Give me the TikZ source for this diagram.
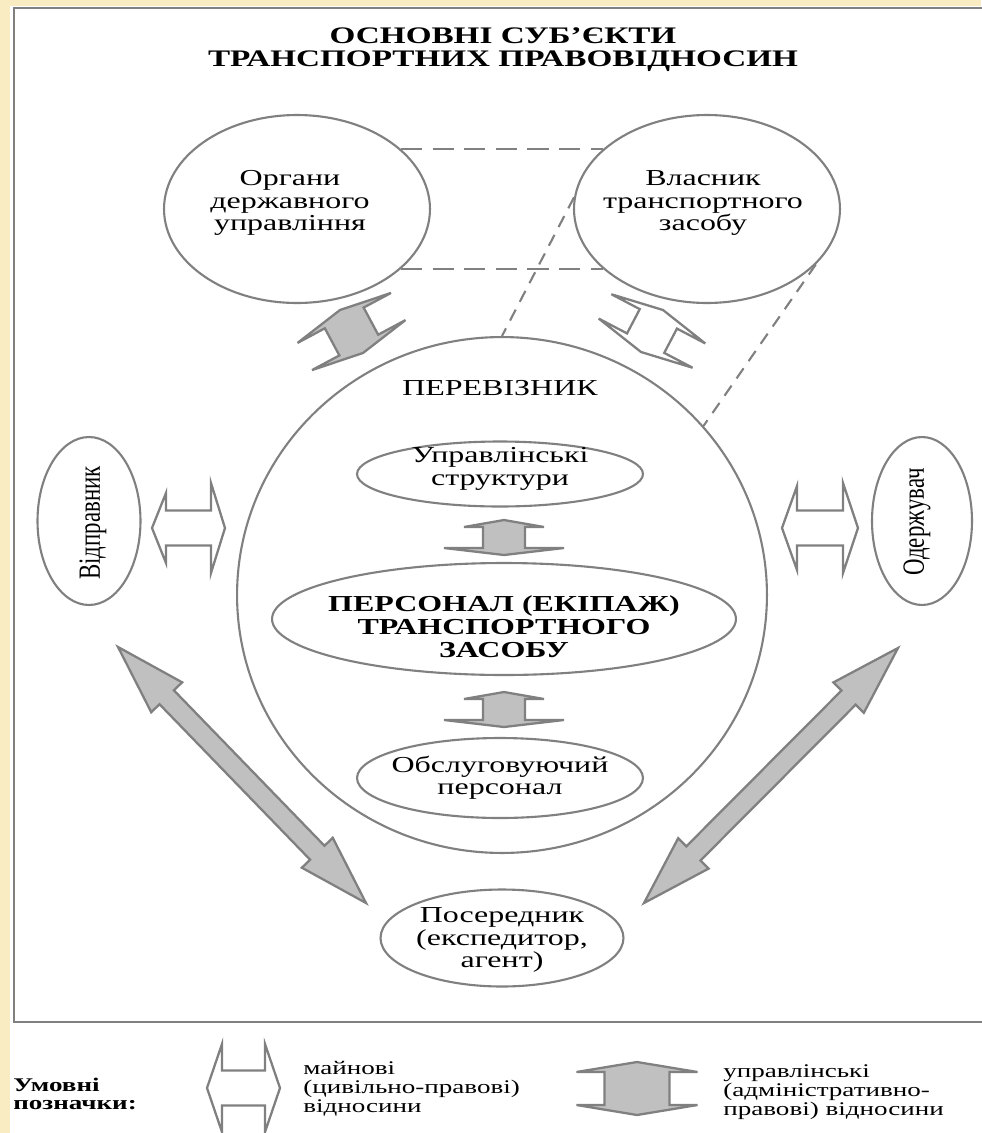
\documentclass[tikz,border=0pt]{standalone}
\usepackage{fontspec}
\usepackage{graphicx}
\setmainfont[FakeStretch=1.4]{Liberation Serif}
\newfontfamily\uprightfont{Liberation Serif}
\usetikzlibrary{calc,shapes.geometric}
\definecolor{linegray}{RGB}{128,128,128}
\definecolor{fillgray}{RGB}{192,192,192}
\definecolor{slideyellow}{RGB}{250,236,194}

% double block arrow: from, to, shaft half, head half (from), head half (to), head length, style
\newcommand{\dblarrow}[7]{%
  \draw[#7] (#1)
    -- ($($(#1)!#6!(#2)$)!#4!90:(#2)$)
    -- ($($(#1)!#6!(#2)$)!#3!90:(#2)$)
    -- ($($(#2)!#6!(#1)$)!#3!-90:(#1)$)
    -- ($($(#2)!#6!(#1)$)!#5!-90:(#1)$)
    -- (#2)
    -- ($($(#2)!#6!(#1)$)!#5!90:(#1)$)
    -- ($($(#2)!#6!(#1)$)!#3!90:(#1)$)
    -- ($($(#1)!#6!(#2)$)!#3!-90:(#2)$)
    -- ($($(#1)!#6!(#2)$)!#4!-90:(#2)$)
    -- cycle;}

\begin{document}
\begin{tikzpicture}[x=0.02cm,y=-0.02cm,
  ell/.style={draw=linegray,line width=1.2pt,ellipse,inner sep=0pt},
  txt/.style={align=center,inner sep=0pt,font=\fontsize{13}{12.8}\selectfont},
  gblock/.style={draw=linegray,fill=fillgray,line width=1.3pt},
  wblock/.style={draw=linegray,fill=white,line width=1.3pt},
  link/.style={draw=linegray,line width=1.2pt}]
\useasboundingbox (0,0) rectangle (981,1133);
% slide background and frame
\fill[white] (0,0) rectangle (981,1133);
\fill[slideyellow] (0,0) rectangle (981,6);
\fill[slideyellow] (0,0) rectangle (10,1133);
\draw[linegray,line width=1.6pt] (990,8) -- (14,8) -- (14,1022) -- (990,1022);

% Title
\node[align=center,font=\fontsize{13.5}{13}\selectfont\bfseries] (title) at (503,50)
  {ОСНОВНІ СУБ’ЄКТИ\\ТРАНСПОРТНИХ ПРАВОВІДНОСИН};

% Top circles
\node[ell,minimum width=5.32cm,minimum height=3.76cm] (organy) at (297,209) {};
\node[txt] (organy-t) at (290,203) {Органи\\державного\\управління};
\node[ell,minimum width=5.32cm,minimum height=3.76cm] (vlasnyk) at (707,209) {};
\node[txt] (vlasnyk-t) at (703,203) {Власник\\транспортного\\засобу};
\draw[link,dash pattern=on 12pt off 6pt] (organy.30) -- (vlasnyk.150);
\draw[link,dash pattern=on 12pt off 6pt] (organy.-30) -- (vlasnyk.-150);

% Carrier
\node[ell,minimum width=10.6cm,minimum height=10.32cm] (pereviz) at (502,595) {};
\node[txt] (pereviz-t) at (500,388) {ПЕРЕВІЗНИК};
\draw[link,dash pattern=on 7pt off 5pt] (vlasnyk.175) -- (pereviz.north);
\draw[link,dash pattern=on 7pt off 5pt] (vlasnyk.-27) -- (pereviz.40);

\node[ell,minimum width=5.72cm,minimum height=1.3cm] (upravl) at (500,474) {};
\node[txt] (upravl-t) at (500,469) {Управлінські\\структури};
\node[ell,minimum width=9.28cm,minimum height=2.24cm] (persn) at (504,619) {};
\node[txt,font=\fontsize{13}{13}\selectfont\bfseries] (persn-t) at (504,627)
  {ПЕРСОНАЛ (ЕКІПАЖ)\\ТРАНСПОРТНОГО\\ЗАСОБУ};
\node[ell,minimum width=5.72cm,minimum height=1.6cm] (obsl) at (500,778) {};
\node[txt] (obsl-t) at (500,778) {Обслуговуючий\\персонал};

% Side and bottom parties
\node[ell,minimum width=2.06cm,minimum height=3.36cm] (vidpr) at (89,521) {};
\node[rotate=90,inner sep=0pt,font=\uprightfont\fontsize{13}{13}\selectfont] (vidpr-t) at (93,523)
  {\scalebox{1}[1.35]{Відправник}};
\node[ell,minimum width=2.0cm,minimum height=3.36cm] (oderzh) at (922,521) {};
\node[rotate=90,inner sep=0pt,font=\uprightfont\fontsize{13}{13}\selectfont] (oderzh-t) at (917,522)
  {\scalebox{1}[1.35]{Одержувач}};
\node[ell,minimum width=4.86cm,minimum height=1.94cm] (posered) at (502,938) {};
\node[txt] (posered-t) at (502,940) {Посередник\\(експедитор,\\агент)};

% Block arrows
\coordinate (og-a) at (340,310);
\coordinate (og-b) at (363,353);
\dblarrow{og-a}{og-b}{0.44cm}{1.06cm}{1.06cm}{0.18cm}{gblock}
\coordinate (vl-a) at (663,310);
\coordinate (vl-b) at (641,352);
\dblarrow{vl-a}{vl-b}{0.42cm}{1.06cm}{1.06cm}{0.2cm}{wblock}
\coordinate (vd-a) at (152,528);
\coordinate (vd-b) at (225,528);
\dblarrow{vd-a}{vd-b}{0.35cm}{0.7cm}{0.9cm}{0.28cm}{wblock}
\coordinate (od-a) at (782,528);
\coordinate (od-b) at (858,528);
\dblarrow{od-a}{od-b}{0.35cm}{0.84cm}{0.9cm}{0.3cm}{wblock}
\coordinate (up-a) at (504,520);
\coordinate (up-b) at (504,555);
\dblarrow{up-a}{up-b}{0.42cm}{0.8cm}{1.2cm}{0.14cm}{gblock}
\coordinate (ob-a) at (504,692);
\coordinate (ob-b) at (504,727);
\dblarrow{ob-a}{ob-b}{0.42cm}{0.8cm}{1.2cm}{0.14cm}{gblock}
\coordinate (lp-a) at (118,647);
\coordinate (lp-b) at (366,903);
\dblarrow{lp-a}{lp-b}{0.2cm}{0.43cm}{0.43cm}{1.4cm}{gblock}
\coordinate (rp-a) at (898,648);
\coordinate (rp-b) at (644,903);
\dblarrow{rp-a}{rp-b}{0.2cm}{0.43cm}{0.43cm}{1.4cm}{gblock}

% Legend
\node[anchor=west,align=left,inner sep=0pt,font=\fontsize{11}{10.2}\selectfont\bfseries] (legend) at (13,1094)
  {Умовні\\позначки:};
\coordinate (lm-a) at (207,1088);
\coordinate (lm-b) at (280,1088);
\dblarrow{lm-a}{lm-b}{0.35cm}{0.88cm}{0.88cm}{0.3cm}{wblock}
\node[anchor=west,align=left,inner sep=0pt,font=\fontsize{11}{10.8}\selectfont] (legend-m) at (303,1089)
  {майнові\\(цивільно-правові)\\відносини};
\coordinate (lu-a) at (637,1062);
\coordinate (lu-b) at (637,1115);
\dblarrow{lu-a}{lu-b}{0.65cm}{1.21cm}{1.21cm}{0.2cm}{gblock}
\node[anchor=west,align=left,inner sep=0pt,font=\fontsize{11}{10.8}\selectfont] (legend-u) at (723,1092)
  {управлінські\\(адміністративно-\\правові) відносини};
\end{tikzpicture}
\end{document}
